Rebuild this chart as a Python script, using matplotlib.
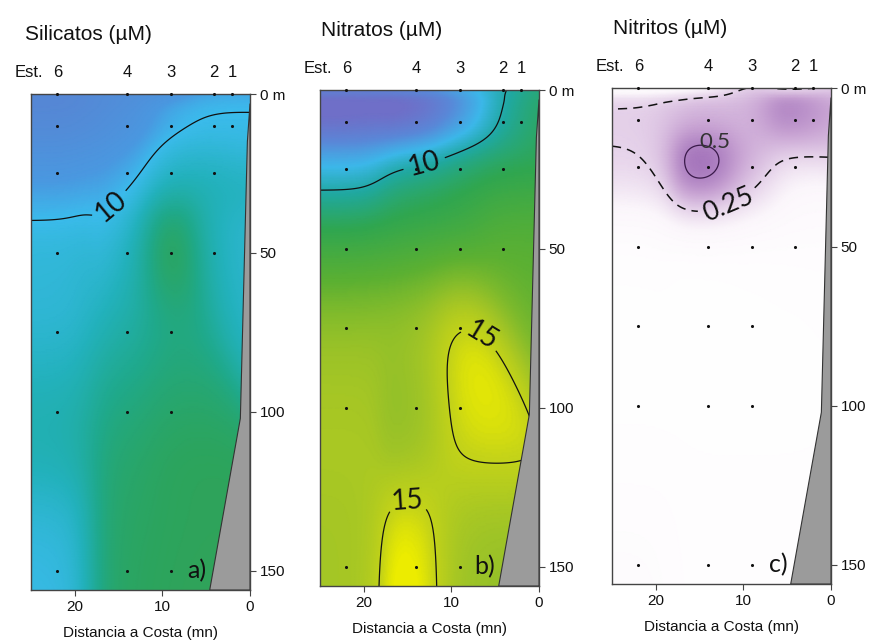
import numpy as np
import matplotlib
matplotlib.use("Agg")
import matplotlib.pyplot as plt
from matplotlib.colors import LinearSegmentedColormap, Normalize
from matplotlib.transforms import blended_transform_factory

# ---------------- data ----------------
station_names = ["6", "4", "3", "2", "1"]
station_dist = [22, 14, 9, 4.1, 2.05]          # distance to coast (mn)
depths = [0, 10, 25, 50, 75, 100, 150]           # m

nan = np.nan
# rows = depths, columns = stations 6, 4, 3, 2, 1
silicatos = [
    [8.0, 8.5, 9.0, 9.6, 9.6],
    [8.3, 8.9, 9.8, 10.1, 10.1],
    [9.2, 9.7, 10.8, 10.9, nan],
    [10.4, 10.8, 13.2, 11.0, nan],
    [10.5, 11.4, 12.0, nan, nan],
    [11.3, 12.4, 12.8, nan, nan],
    [10.3, 12.8, 13.0, nan, nan],
]
nitratos = [
    [7.0, 7.4, 8.4, 9.5, 10.8],
    [6.2, 6.6, 8.3, 9.7, 11.2],
    [9.2, 10.3, 10.9, 11.4, nan],
    [12.0, 12.3, 12.5, 12.9, nan],
    [14.0, 14.3, 15.25, nan, nan],
    [14.4, 14.0, 15.15, nan, nan],
    [14.4, 15.55, 14.3, nan, nan],
]
nitritos = [
    [0.03, 0.12, 0.27, 0.21, 0.27],
    [0.265, 0.36, 0.35, 0.55, 0.35],
    [0.235, 0.56, 0.33, 0.17, nan],
    [0.04, 0.05, 0.05, 0.05, nan],
    [0.02, 0.02, 0.02, nan, nan],
    [0.02, 0.02, 0.02, nan, nan],
    [0.05, 0.03, 0.03, nan, nan],
]
titles = ["Silicatos (µM)", "Nitratos (µM)", "Nitritos (µM)"]
panel_tags = ["a)", "b)", "c)"]

bathy_dist = [0, 0.3, 1.1, 4.6, 0]
bathy_depth = [3, 15, 102, 156, 156]

# ---------------- style ----------------
FONT = ["Liberation Sans", "DejaVu Sans"]
LBLFONT = ["Lato", "DejaVu Sans"]
plt.rcParams["font.family"] = FONT

cmap_stops = [
    ([7.5, 9.3, 10, 11, 12, 13, 14.0],
     ['#5a80d0', '#4a98e0', '#3bbbec', '#22b1bb', '#1fa98c', '#2ca45c', '#5f8e3e']),
    ([6, 7.5, 9, 10.2, 11.5, 13, 14.3, 15.1, 15.5],
     ['#6f6fc8', '#5a88d8', '#3cb8ea', '#20a8a0', '#30a650', '#5cb032', '#a0c426',
      '#c6d418', '#ecec00']),
    ([0, 0.12, 0.25, 0.4, 0.55, 0.7],
     ['#ffffff', '#fbf6fb', '#e6d3ea', '#c8a3d3', '#a474bb', '#84529e']),
]


def make_cmap(stops, colors):
    lo, hi = stops[0], stops[-1]
    pos = [(s - lo) / (hi - lo) for s in stops]
    return LinearSegmentedColormap.from_list("odv", list(zip(pos, colors))), Normalize(lo, hi)


XMAX, YMAX = 25.0, 156.0
gx = np.linspace(0, XMAX, 251)
gy = np.linspace(0, YMAX, 313)
GX, GY = np.meshgrid(gx, gy)


def weights(ax_, ai, bx, bi, lx, ly):
    return np.exp(-(((ax_[..., None] - bx) / lx) ** 2 + ((ai[..., None] - bi) / ly) ** 2))


def grid_field(values, lx=4.5, ly=1.6, k=0.75):
    """Two-pass Barnes-style weighted-average gridding (distance / sqrt(depth) space)."""
    v = np.array(values, float)
    X, D = np.meshgrid(station_dist, depths)
    m = ~np.isnan(v)
    px, pd, pv = X[m], D[m], v[m]
    ps = np.sqrt(pd)
    gs = np.sqrt(GY)
    wg = weights(GX, gs, px, ps, lx, ly)
    wp = weights(px, ps, px, ps, lx, ly)
    Zg = (wg * pv).sum(-1) / wg.sum(-1)
    Zp = (wp * pv).sum(-1) / wp.sum(-1)
    r = pv - Zp
    wg2 = weights(GX, gs, px, ps, lx * k, ly * k)
    Zg = Zg + (wg2 * r).sum(-1) / wg2.sum(-1)
    return Zg, px, pd


fig = plt.figure(figsize=(8.7, 6.42), dpi=100)
W, H = 219, 496
rects = [(31, 94), (320, 90), (612, 88)]
title_dx = [-4, 1, 1]
fields = [silicatos, nitratos, nitritos]

for i, (l, t) in enumerate(rects):
    ax = fig.add_axes([l / 870, 1 - (t + H) / 642, W / 870, H / 642])
    Z, px, pd = grid_field(fields[i])
    cmap, norm = make_cmap(*cmap_stops[i])
    ax.pcolormesh(GX, GY, Z, cmap=cmap, norm=norm, shading="gouraud", zorder=1)

    if i == 0:
        cs = ax.contour(GX, GY, Z, levels=[10], colors="#111", linewidths=0.9, zorder=2)
        lbls = ax.clabel(cs, fmt="%g", fontsize=20, manual=[(16.0, 35)], inline_spacing=6)
    elif i == 1:
        cs = ax.contour(GX, GY, Z, levels=[10, 15], colors="#111", linewidths=0.9, zorder=2)
        lbls = ax.clabel(cs, fmt="%g", fontsize=20,
                         manual=[(13.5, 19), (4.5, 69), (15.0, 130)], inline_spacing=6)
    else:
        cs = ax.contour(GX, GY, Z, levels=[0.25], colors="#111", linewidths=1.1,
                        linestyles=[(0, (6, 4))], zorder=2)
        cs2 = ax.contour(GX, GY, Z, levels=[0.5], colors="#3a1a4a", linewidths=0.9, zorder=2)
        lbls = ax.clabel(cs, fmt="%g", fontsize=19, manual=[(12, 35)], inline_spacing=6)
        ax.text(13.3, 17.0, "0.5", ha="center", va="center", fontsize=16,
                color="#333", family=LBLFONT, zorder=4)
    for tx in lbls:
        tx.set_family(LBLFONT)
        tx.set_color("#111")

    ax.fill(bathy_dist, bathy_depth, facecolor="#9b9b9b", edgecolor="#333",
            linewidth=0.8, zorder=3)
    ax.scatter(px, pd, s=5, c="#111", zorder=5, clip_on=False, linewidths=0)

    ax.set_xlim(XMAX, 0)
    ax.set_ylim(YMAX, 0)
    ax.yaxis.tick_right()
    ax.set_yticks([0, 50, 100, 150])
    ax.set_yticklabels(["0 m", "50", "100", "150"])
    ax.set_xticks([20, 10, 0])
    ax.tick_params(direction="out", length=4, width=0.8, labelsize=11,
                   color="#444", labelcolor="#111", pad=3)
    for sp in ax.spines.values():
        sp.set_color("#444")
        sp.set_linewidth(1.0)
    ax.set_xlabel("Distancia a Costa (mn)", fontsize=11, labelpad=9, color="#111")

    ax.text(5.0, 150, panel_tags[i], ha="right", va="center", fontsize=18,
            family=LBLFONT, color="#111", zorder=6)

    trans = blended_transform_factory(ax.transData, ax.transAxes)
    for name, d in zip(station_names, station_dist):
        ax.annotate(name, xy=(d, 1), xycoords=trans, xytext=(0, 12),
                    textcoords="offset points", ha="center", va="baseline",
                    fontsize=12, color="#111")
    ax.annotate("Est.", xy=(station_dist[0], 1), xycoords=trans, xytext=(-10, 12),
                textcoords="offset points", ha="right", va="baseline",
                fontsize=12, color="#111")
    ax.annotate(titles[i], xy=(0, 1), xycoords="axes fraction", xytext=(title_dx[i], 39),
                textcoords="offset points", ha="left", va="baseline",
                fontsize=15, color="#111")

fig.savefig("out.png", dpi=100)
